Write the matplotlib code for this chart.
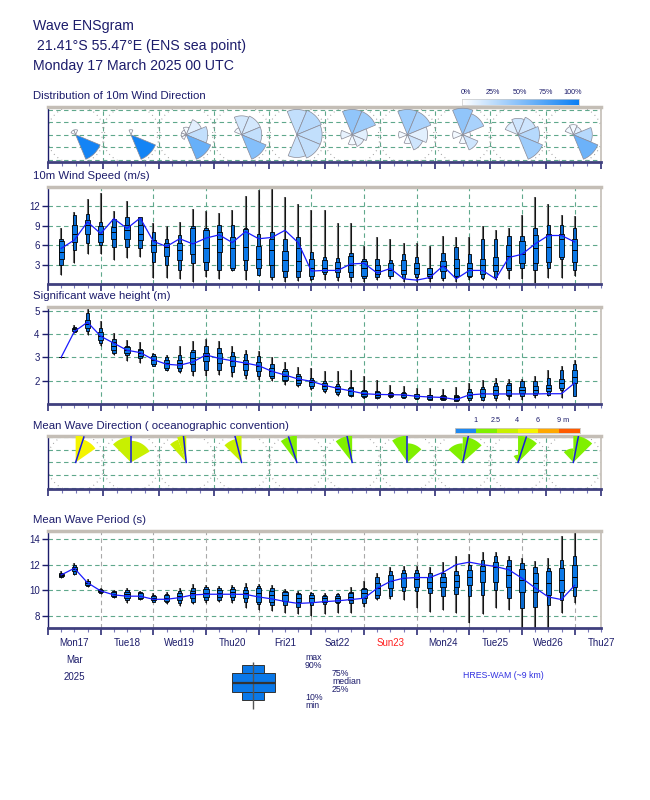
import numpy as np
import matplotlib.pyplot as plt
from matplotlib.colors import LinearSegmentedColormap
from matplotlib.transforms import blended_transform_factory

plt.rcParams['font.family'] = ['Liberation Sans', 'DejaVu Sans']

# ---------------- data ----------------
day_labels = ['Mon17', 'Tue18', 'Wed19', 'Thu20', 'Fri21', 'Sat22', 'Sun23',
              'Mon24', 'Tue25', 'Wed26', 'Thu27']
step_h = list(range(6, 241, 6))          # forecast steps in hours

# 10m wind speed (m/s)
ws_min = [1.4, 3.3, 4.6, 4.6, 3.7, 4.0, 4.2, 1.0, 1.0, 0.7, 0.3, 1.1, 0.7, 2.0, 0.6, 1.3, 0.6, 0.3, 0.5, 0.5,
          0.6, 0.5, 0.3, 0.3, 0.6, 0.8, 0.3, 0.3, 0.3, 0.5, 0.3, 0.6, 0.6, 0.6, 0.8, 0.8, 0.1, 1.0, 1.0, 1.3]
ws_p10 = [2.9, 5.2, 6.3, 6.0, 5.7, 5.7, 5.5, 3.4, 2.9, 2.1, 3.2, 2.1, 2.1, 2.1, 2.1, 1.4, 1.1, 1.1, 1.1, 0.7,
          1.5, 1.1, 1.1, 0.9, 1.1, 1.2, 1.0, 1.1, 0.9, 1.0, 1.1, 1.1, 1.0, 1.1, 2.2, 2.5, 2.1, 2.5, 3.9, 2.2]
ws_p25 = [3.9, 6.5, 7.8, 6.5, 7.0, 7.0, 6.8, 5.0, 4.4, 3.7, 4.7, 3.4, 5.0, 2.5, 3.7, 2.5, 2.9, 2.0, 2.0, 1.3,
          1.9, 1.9, 1.9, 1.3, 1.6, 1.3, 1.6, 1.6, 1.3, 2.0, 1.3, 1.3, 1.5, 2.0, 2.4, 3.3, 3.2, 3.4, 4.1, 3.4]
ws_med = [5.0, 7.8, 9.1, 7.8, 8.1, 8.3, 7.8, 6.0, 5.7, 5.2, 6.3, 5.5, 7.0, 5.5, 5.7, 3.8, 5.2, 3.7, 3.6, 2.4,
          2.5, 2.5, 2.9, 2.4, 2.2, 2.1, 2.2, 2.4, 1.5, 2.8, 2.5, 2.4, 2.9, 2.9, 4.3, 4.6, 5.5, 5.7, 7.0, 5.3]
ws_p75 = [6.6, 9.2, 9.9, 8.9, 8.8, 9.1, 9.1, 6.8, 6.4, 6.3, 8.6, 8.4, 8.1, 7.2, 8.5, 5.8, 6.9, 5.1, 5.5, 3.8,
          3.7, 3.4, 4.3, 3.5, 2.9, 3.2, 3.7, 3.3, 2.4, 3.6, 3.8, 3.2, 3.9, 4.2, 6.1, 6.6, 7.5, 7.8, 7.8, 7.0]
ws_p90 = [7.0, 10.6, 10.9, 9.6, 10.1, 10.3, 10.3, 8.1, 7.0, 7.5, 9.0, 8.6, 9.1, 9.1, 8.6, 7.7, 8.1, 7.0, 7.3, 5.0,
          4.2, 4.0, 4.8, 3.9, 3.8, 3.7, 4.6, 4.1, 2.5, 4.8, 5.7, 4.6, 7.0, 7.0, 7.4, 7.4, 8.6, 9.1, 9.1, 8.6]
ws_max = [8.6, 11.2, 13.2, 14.0, 11.3, 12.9, 10.4, 9.5, 8.9, 9.6, 11.6, 11.3, 11.0, 11.5, 13.6, 14.5, 15.5, 13.5, 12.4, 11.5,
          11.5, 9.5, 9.5, 5.9, 7.3, 6.9, 6.4, 6.3, 5.9, 7.5, 7.2, 7.2, 8.9, 8.3, 8.6, 10.7, 13.4, 12.4, 10.7, 10.5]
ws_hres = [5.5, 6.8, 9.6, 7.8, 10.1, 8.6, 10.2, 6.6, 5.8, 7.0, 6.2, 7.1, 7.6, 6.4, 8.1, 7.0, 7.2, 8.3, 6.4, 2.0,
           2.1, 2.1, 3.1, 3.2, 1.7, 2.4, 0.8, 0.6, 1.0, 2.8, 0.8, 2.1, 2.1, 0.8, 4.1, 4.6, 6.2, 7.5, 7.5, 6.5]

# significant wave height (m)
hs_min = [2.98, 4.04, 3.97, 3.47, 3.11, 2.83, 2.76, 2.61, 2.40, 2.33, 2.19, 2.19, 2.26, 2.16, 2.07, 2.04, 1.97, 1.83, 1.73, 1.61,
          1.47, 1.33, 1.29, 1.21, 1.21, 1.26, 1.26, 1.21, 1.16, 1.16, 1.11, 1.11, 1.11, 1.11, 1.16, 1.19, 1.26, 1.33, 1.26, 1.33]
hs_p10 = [2.99, 4.09, 4.11, 3.61, 3.19, 3.11, 2.97, 2.64, 2.44, 2.40, 2.40, 2.47, 2.47, 2.36, 2.26, 2.19, 2.11, 1.97, 1.83, 1.69,
          1.57, 1.43, 1.33, 1.29, 1.26, 1.29, 1.26, 1.21, 1.19, 1.16, 1.14, 1.19, 1.19, 1.26, 1.33, 1.33, 1.40, 1.40, 1.61, 1.36]
hs_p25 = [2.99, 4.14, 4.26, 3.73, 3.30, 3.19, 3.04, 2.73, 2.54, 2.54, 2.73, 2.83, 2.76, 2.61, 2.47, 2.40, 2.21, 2.04, 1.90, 1.79,
          1.64, 1.50, 1.40, 1.33, 1.30, 1.33, 1.30, 1.26, 1.23, 1.21, 1.19, 1.26, 1.30, 1.40, 1.40, 1.47, 1.47, 1.54, 1.69, 1.90]
hs_med = [3.00, 4.19, 4.43, 3.90, 3.50, 3.30, 3.19, 2.90, 2.76, 2.76, 2.97, 3.04, 2.97, 2.83, 2.69, 2.61, 2.40, 2.21, 2.04, 1.93,
          1.76, 1.64, 1.57, 1.44, 1.40, 1.40, 1.37, 1.33, 1.30, 1.26, 1.29, 1.37, 1.47, 1.61, 1.61, 1.61, 1.61, 1.69, 1.90, 2.14]
hs_p75 = [3.00, 4.24, 4.59, 4.07, 3.64, 3.43, 3.30, 3.04, 2.90, 2.90, 3.21, 3.19, 3.19, 3.04, 2.90, 2.79, 2.54, 2.40, 2.21, 2.04,
          1.90, 1.79, 1.69, 1.56, 1.51, 1.49, 1.47, 1.41, 1.37, 1.34, 1.36, 1.50, 1.64, 1.79, 1.83, 1.73, 1.76, 1.83, 2.07, 2.47]
hs_p90 = [3.01, 4.29, 4.90, 4.26, 3.76, 3.50, 3.36, 3.14, 3.00, 3.11, 3.33, 3.47, 3.40, 3.21, 3.14, 3.04, 2.69, 2.50, 2.30, 2.11,
          2.00, 1.87, 1.73, 1.61, 1.57, 1.51, 1.50, 1.44, 1.40, 1.37, 1.40, 1.64, 1.73, 1.90, 1.90, 1.97, 1.97, 2.11, 2.44, 2.69]
hs_max = [3.02, 4.36, 5.10, 4.57, 4.04, 3.73, 3.64, 3.19, 3.11, 3.47, 3.69, 3.79, 3.69, 3.47, 3.30, 3.26, 3.00, 2.80, 2.57, 2.54,
          2.40, 2.40, 2.44, 2.19, 2.04, 1.83, 1.79, 1.69, 1.69, 1.64, 1.73, 1.90, 2.04, 2.11, 2.07, 2.07, 2.21, 2.47, 2.61, 2.90]
hs_hres = [3.00, 4.10, 4.50, 3.90, 3.60, 3.30, 3.20, 2.90, 2.70, 2.66, 2.80, 3.10, 2.95, 2.85, 2.75, 2.64, 2.40, 2.24, 2.07, 1.97,
           1.80, 1.67, 1.56, 1.44, 1.41, 1.40, 1.39, 1.33, 1.30, 1.28, 1.19, 1.39, 1.43, 1.43, 1.43, 1.43, 1.43, 1.44, 1.44, 1.90]

# mean wave period (s)
tp_min = [11.00, 11.16, 10.30, 9.70, 9.40, 9.00, 9.27, 9.09, 8.93, 8.83, 8.93, 9.00, 9.14, 9.00, 8.62, 8.49, 8.41, 8.23, 8.15, 8.05,
          8.15, 8.23, 8.23, 8.75, 9.27, 9.35, 9.27, 8.62, 8.36, 8.49, 8.23, 7.46, 8.15, 8.67, 8.49, 6.80, 6.80, 6.80, 8.23, 9.00]
tp_p10 = [11.08, 11.28, 10.35, 9.78, 9.50, 9.27, 9.35, 9.14, 9.09, 9.00, 9.14, 9.27, 9.27, 9.27, 9.14, 8.93, 8.88, 8.88, 8.75, 8.88,
          8.93, 9.00, 9.00, 9.00, 9.40, 9.60, 9.97, 9.97, 9.78, 9.60, 9.71, 9.60, 9.66, 10.04, 9.45, 8.62, 8.75, 8.88, 9.27, 9.60]
tp_p25 = [11.12, 11.47, 10.42, 9.88, 9.58, 9.40, 9.40, 9.27, 9.19, 9.27, 9.40, 9.53, 9.53, 9.53, 9.40, 9.14, 9.14, 9.19, 9.14, 9.14,
          9.14, 9.14, 9.27, 9.40, 9.66, 10.17, 10.30, 10.30, 10.17, 10.30, 10.30, 10.43, 10.64, 10.69, 10.30, 9.91, 9.86, 9.66, 9.91, 10.30]
tp_med = [11.20, 11.67, 10.56, 9.97, 9.71, 9.71, 9.60, 9.42, 9.40, 9.60, 9.78, 9.84, 9.84, 9.86, 9.78, 9.78, 9.66, 9.66, 9.45, 9.40,
          9.40, 9.40, 9.53, 9.78, 10.17, 10.74, 10.95, 10.90, 10.69, 10.69, 10.74, 11.08, 11.47, 11.85, 11.20, 10.82, 10.56, 10.56, 10.82, 11.08]
tp_p75 = [11.28, 11.85, 10.70, 10.05, 9.86, 9.91, 9.78, 9.60, 9.66, 9.84, 9.99, 10.12, 10.04, 10.12, 10.04, 10.17, 9.97, 9.86, 9.71, 9.66,
          9.60, 9.60, 9.78, 10.12, 10.56, 11.20, 11.34, 11.34, 11.08, 11.08, 11.16, 11.60, 11.93, 12.24, 11.93, 11.67, 11.34, 11.47, 11.72, 11.98]
tp_p90 = [11.34, 11.98, 10.77, 10.12, 9.97, 10.04, 9.86, 9.66, 9.71, 9.97, 10.17, 10.30, 10.22, 10.30, 10.30, 10.38, 10.22, 9.97, 9.84, 9.78,
          9.66, 9.71, 9.86, 10.22, 11.08, 11.47, 11.60, 11.60, 11.34, 11.34, 11.52, 11.98, 12.37, 12.63, 12.37, 12.11, 11.85, 11.72, 12.37, 12.63]
tp_max = [11.47, 12.10, 10.90, 10.20, 10.04, 10.17, 9.97, 9.78, 9.86, 10.17, 10.48, 10.43, 10.38, 10.43, 10.56, 10.48, 10.43, 10.12, 9.97, 9.86,
          9.78, 9.78, 10.30, 10.74, 11.34, 11.85, 11.93, 11.93, 11.85, 12.19, 12.70, 12.80, 12.97, 12.97, 12.63, 12.50, 12.29, 12.55, 14.18, 14.50]
tp_hres = [11.20, 11.72, 10.60, 9.97, 9.66, 9.56, 9.56, 9.32, 9.32, 9.45, 9.66, 9.71, 9.71, 9.71, 9.70, 9.50, 9.35, 9.15, 9.00, 9.05,
           9.14, 9.20, 9.30, 9.40, 10.17, 10.70, 10.95, 11.00, 11.00, 11.40, 12.00, 12.19, 12.00, 11.85, 11.60, 10.95, 10.20, 9.50, 9.30, 10.40]

# 10m wind direction distribution: 8 sectors (N, NE, E, SE, S, SW, W, NW), one rose per day
rose_dirs = [0, 45, 90, 135, 180, 225, 270, 315]
rose_prob = [[0.03, 0, 0, 0.96, 0, 0, 0, 0.02],
             [0.04, 0, 0, 0.96, 0, 0, 0, 0],
             [0.04, 0.12, 0.25, 0.62, 0, 0.02, 0.02, 0.02],
             [0.18, 0.18, 0.25, 0.50, 0, 0, 0, 0.05],
             [0.25, 0.30, 0.25, 0.25, 0.22, 0, 0, 0],
             [0.45, 0.40, 0.12, 0.10, 0.05, 0, 0.10, 0],
             [0.40, 0.35, 0.12, 0.20, 0.05, 0, 0.05, 0],
             [0.45, 0.35, 0.05, 0.20, 0.05, 0, 0.05, 0],
             [0.20, 0.20, 0.30, 0.40, 0, 0, 0, 0.12],
             [0.05, 0.12, 0.30, 0.60, 0, 0, 0, 0.05]]
rose_len = [[0.20, 0, 0, 1.05, 0, 0, 0, 0.20],
            [0.20, 0, 0, 1.05, 0, 0, 0, 0],
            [0.30, 0.65, 0.85, 1.05, 0, 0.20, 0.20, 0.20],
            [0.75, 0.80, 0.80, 1.05, 0, 0, 0, 0.30],
            [1.00, 1.05, 1.00, 1.00, 0.90, 0, 0, 0],
            [1.00, 1.00, 0.60, 0.50, 0.40, 0, 0.45, 0],
            [1.00, 1.00, 0.80, 0.65, 0.35, 0, 0.35, 0],
            [1.05, 0.90, 0.30, 0.65, 0.35, 0, 0.40, 0],
            [0.65, 0.75, 0.85, 1.05, 0, 0, 0, 0.55],
            [0.40, 0.35, 0.75, 1.05, 0, 0, 0, 0.35]]

# mean wave direction (going to): sectors per day (from, to, length, wave height) and mean direction
wd_from = [[0, 20], [-45, 0], [-42, -20], [-45, -15], [-37], [-38], [-35, 0], [-48, 0], [-35, 0], [-43, 0]]
wd_to = [[20, 55], [0, 60], [-20, 0], [-15, 0], [0], [0], [0, 47], [0, 48], [0, 45], [0, 45]]
wd_len = [[1.05, 0.95], [1.0, 0.85], [0.95, 1.05], [0.95, 1.05], [1.05], [1.05], [1.05, 0.75], [0.75, 1.0], [0.3, 1.05], [0.55, 1.05]]
wd_hs = [[4.3, 4.1], [3.4, 3.3], [3.0, 2.9], [2.9, 2.8], [2.2], [1.9], [1.6, 1.5], [1.4, 1.5], [1.5, 1.6], [1.8, 1.9]]
wd_mean = [18, 0, -6, -14, -18, -11, 0, 12, 18, 11]
wd_bounds = [0, 1, 2.5, 4, 6, 9, 15]
wd_colors = ['#1e88f0', '#80f000', '#c8f000', '#f4f400', '#ffa800', '#ff5a00']

# ---------------- styling ----------------
NAVY = '#1c1c6b'
GRID = '#5fa88c'
FRAME = '#c4beb6'
BOXC = '#0a78e8'
HRESC = '#1a1aff'
W, H = 650, 800

fig = plt.figure(figsize=(6.5, 8), dpi=100)


def panel(x0, y0, x1, y1):
    return fig.add_axes([x0 / W, 1 - y1 / H, (x1 - x0) / W, (y1 - y0) / H])


def ftext(x, y, s, **kw):
    kw.setdefault('color', NAVY)
    fig.text(x / W, 1 - y / H, s, **kw)


def frame(ax):
    ax.set_facecolor('white')
    ax.spines['top'].set_color(FRAME)
    ax.spines['top'].set_linewidth(2.5)
    ax.spines['right'].set_color(FRAME)
    ax.spines['right'].set_linewidth(1.2)
    ax.spines['left'].set_color(NAVY)
    ax.spines['left'].set_linewidth(1.0)
    ax.spines['bottom'].set_color('#40407e')
    ax.spines['bottom'].set_linewidth(2.0)


def time_ticks(ax, n, minor_step):
    ax.set_xticks(np.arange(0, n + 0.01, 1.0))
    ax.set_xticks(np.arange(0, n + 0.01, minor_step), minor=True)
    ax.tick_params(axis='x', which='major', length=5, width=1.1, color=NAVY, labelbottom=False)
    ax.tick_params(axis='x', which='minor', length=3, width=0.8, color='#7878b8')


t = np.array(step_h) / 24.0


def box_panel(rect, ylim, yticks, mn, p10, p25, med, p75, p90, mx, hres, vcol):
    ax = panel(*rect)
    frame(ax)
    ax.set_xlim(0, 10.5)
    ax.set_ylim(*ylim)
    ax.set_yticks(yticks)
    ax.set_yticklabels([str(v) for v in yticks])
    ax.tick_params(axis='y', length=4, width=1.0, colors=NAVY, labelsize=7, pad=2)
    time_ticks(ax, 10.5, 0.25)
    for y in yticks:
        ax.axhline(y, color=GRID, lw=0.8, ls=(0, (4, 3)), zorder=0)
    for d in range(1, 11):
        ax.axvline(d, color=vcol, lw=0.8, ls=(0, (4, 3)), zorder=0)
    ax.vlines(t, mn, mx, color='#6a6a6a', lw=1.5, zorder=2)
    ax.vlines(t, mn, mx, color='#111111', lw=0.7, zorder=2)
    ax.bar(t, np.subtract(p90, p10), bottom=p10, width=0.064, color='#0a6ad0',
           edgecolor='black', linewidth=0.6, zorder=3)
    ax.bar(t, np.subtract(p75, p25), bottom=p25, width=0.1, color=BOXC,
           edgecolor='black', linewidth=0.6, zorder=3)
    ax.hlines(med, t - 0.05, t + 0.05, color='black', lw=0.7, zorder=4)
    ax.plot(t, hres, color=HRESC, lw=0.9, zorder=5)
    return ax


def fan(ax, xc, r, a0, a1, sx, **kw):
    th = np.radians(np.linspace(a0, a1, 25))
    xs = np.r_[xc, xc + r * np.sin(th) * sx, xc]
    ys = np.r_[0, r * np.cos(th), 0]
    ax.fill(xs, ys, **kw)


def rose_panel(rect, ylim):
    ax = panel(*rect)
    frame(ax)
    ax.set_xlim(0, 10)
    ax.set_ylim(*ylim)
    ax.set_yticks([])
    time_ticks(ax, 10, 0.25)
    for y in (-1.0, -0.5, 0.0, 0.5, 1.0):
        ax.axhline(y, color=GRID, lw=0.8, ls=(0, (4, 3)), zorder=0)
    for d in range(1, 10):
        ax.axvline(d, color=GRID, lw=0.8, ls=(0, (4, 3)), zorder=0)
    ph = rect[3] - rect[1]
    pw = rect[2] - rect[0]
    sx = (10.0 / pw) * (ph / (ylim[1] - ylim[0]))
    th = np.linspace(0, 2 * np.pi, 120)
    for d in range(10):
        ax.plot(d + 0.5 + 1.15 * np.sin(th) * sx, 1.15 * np.cos(th), color='#9a9a9a',
                lw=0.8, ls=(0, (0.8, 3.5)), zorder=0)
    return ax, sx


# ---------------- titles ----------------
ftext(33, 26, 'Wave ENSgram', fontsize=10.2, va='center')
ftext(33, 46, ' 21.41°S 55.47°E (ENS sea point)', fontsize=10.2, va='center')
ftext(33, 66, 'Monday 17 March 2025 00 UTC', fontsize=10.2, va='center')

# ---------------- wind direction roses ----------------
ftext(33, 96, 'Distribution of 10m Wind Direction', fontsize=8.2, va='center')
ax1, sx1 = rose_panel((48, 107, 601, 162), (-1.08, 1.1))
cmap_p = LinearSegmentedColormap.from_list('p', ['#ffffff', '#0a7ff5'])
for d in range(10):
    for k, a in enumerate(rose_dirs):
        if rose_len[d][k] > 0:
            fan(ax1, d + 0.5, rose_len[d][k], a - 22.5, a + 22.5, sx1,
                facecolor=cmap_p(rose_prob[d][k]), edgecolor='#8a8a96', lw=0.5, zorder=3)

cb1 = panel(462, 99, 579, 105)
cb1.imshow(np.linspace(0, 1, 200)[None, :], cmap=cmap_p, aspect='auto', extent=(0, 100, 0, 1))
cb1.set_xticks([])
cb1.set_yticks([])
for s in cb1.spines.values():
    s.set_color('#c8c8c8')
    s.set_linewidth(0.5)
for v in (0, 25, 50, 75, 100):
    ftext(466 + v * 1.07, 92.5, f'{v}%', fontsize=5.2, ha='center', va='center')

# ---------------- wind speed ----------------
ftext(33, 176, '10m Wind Speed (m/s)', fontsize=8.2, va='center')
box_panel((48, 187, 601, 284), (0, 15), [3, 6, 9, 12],
          ws_min, ws_p10, ws_p25, ws_med, ws_p75, ws_p90, ws_max, ws_hres, GRID)

# ---------------- significant wave height ----------------
ftext(33, 296, 'Significant wave height (m)', fontsize=8.2, va='center')
box_panel((48, 307, 601, 404), (1, 5.15), [2, 3, 4, 5],
          hs_min, hs_p10, hs_p25, hs_med, hs_p75, hs_p90, hs_max, hs_hres, GRID)

# ---------------- mean wave direction ----------------
ftext(33, 426, 'Mean Wave Direction ( oceanographic convention)', fontsize=8.2, va='center')
ax4, sx4 = rose_panel((48, 436, 601, 489), (-1.05, 1.04))


def wd_color(h):
    for i in range(len(wd_colors)):
        if h < wd_bounds[i + 1]:
            return wd_colors[i]
    return wd_colors[-1]


for d in range(10):
    for a0, a1, r, h in zip(wd_from[d], wd_to[d], wd_len[d], wd_hs[d]):
        fan(ax4, d + 0.5, r, a0, a1, sx4, facecolor=wd_color(h), edgecolor='none', zorder=3)
    m = np.radians(wd_mean[d])
    ax4.plot([d + 0.5, d + 0.5 + 1.05 * np.sin(m) * sx4], [0, 1.05 * np.cos(m)],
             color='#1a1ae0', lw=1.1, zorder=4)

cb4 = panel(455, 428, 580, 433)
cb4.set_xlim(0, 6)
cb4.set_ylim(0, 1)
cb4.bar(np.arange(6) + 0.5, 1, width=1, color=wd_colors)
cb4.set_xticks([])
cb4.set_yticks([])
for s in cb4.spines.values():
    s.set_color('#d0c8c0')
    s.set_linewidth(0.6)
for i, lab in enumerate(['1', '2.5', '4', '6', '9 m']):
    ftext(475 + i * 20.9 + (4 if lab == '9 m' else 0), 421, lab, fontsize=5.2, ha='center', va='center')

# ---------------- mean wave period ----------------
ftext(33, 520, 'Mean Wave Period (s)', fontsize=8.2, va='center')
ax5 = box_panel((48, 531, 601, 628), (7.1, 14.6), [8, 10, 12, 14],
                tp_min, tp_p10, tp_p25, tp_med, tp_p75, tp_p90, tp_max, tp_hres, '#a8a8a8')

tr = blended_transform_factory(ax5.transData, fig.transFigure)
for i, lab in enumerate(day_labels):
    ax5.text(i + 0.5, 1 - 643 / H, lab, transform=tr, fontsize=7, ha='center', va='center',
             color='#ff2020' if lab.startswith('Sun') else NAVY, clip_on=False)
ax5.text(0.5, 1 - 660 / H, 'Mar', transform=tr, fontsize=7, ha='center', va='center', color=NAVY)
ax5.text(0.5, 1 - 677 / H, '2025', transform=tr, fontsize=7, ha='center', va='center', color=NAVY)

# ---------------- box legend ----------------
lg = panel(220, 655, 290, 712)
lg.set_xlim(0, 70)
lg.set_ylim(0, 57)
lg.axis('off')
lg.vlines(33, 3, 50, color='#555555', lw=1.0)
lg.bar(33, 35, bottom=12, width=22, color=BOXC, edgecolor='#333333', lw=0.7)
lg.bar(33, 19, bottom=20, width=43, color=BOXC, edgecolor='#333333', lw=0.7)
lg.hlines(29.5, 11.5, 54.5, color='#333333', lw=1.6)
for y, s, x in [(657, 'max', 305), (665, '90%', 305), (674, '75%', 332), (682, 'median', 332),
                (690, '25%', 332), (697, '10%', 305), (705, 'min', 305)]:
    ftext(x, y, s, fontsize=6.3, va='center')

ftext(503, 675, 'HRES-WAM (~9 km)', fontsize=6.3, ha='center', va='center', color='#3030e0')

fig.savefig('out.png', dpi=100)
